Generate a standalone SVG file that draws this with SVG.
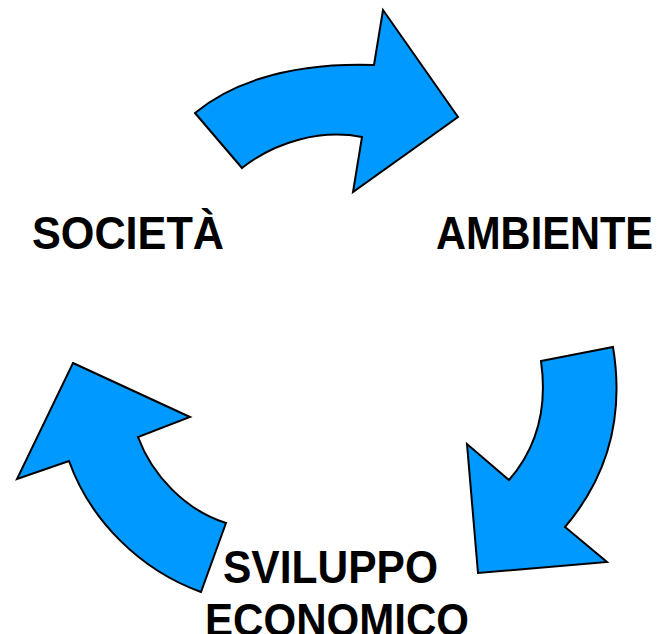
<svg xmlns="http://www.w3.org/2000/svg" width="657" height="634" viewBox="0 0 657 634">
<style>
.arrow{fill:#0099FF;stroke:#000;stroke-width:2;stroke-linejoin:miter}
.lbl{font-family:"Liberation Sans",Arial,sans-serif;font-weight:bold;font-size:46px;fill:#000}
</style>
<rect width="657" height="634" fill="#fff"/>
<g id="connectors">
<path id="arrow-top" class="arrow" d="M195,113 C225,88 280,62 374,65 L383,10 L458,117 L353,192 L362,137 C320,129 275,142 242,168 Z"/>
<path id="arrow-right" class="arrow" d="M541,361 L613,347 C625,420 605,480 565,527 L607,562 L478,573 L467,444 L509,480 C535,450 548,410 541,361 Z"/>
<path id="arrow-left" class="arrow" d="M73,363 L190,417 L138,437 C152,475 185,510 226,523 L201,592 C140,570 90,520 69,461 L17,479 Z"/>
</g>
<g id="societa"><text class="lbl" x="32" y="249" textLength="192" lengthAdjust="spacingAndGlyphs">SOCIETÀ</text></g>
<g id="ambiente"><text class="lbl" x="436" y="249" textLength="217" lengthAdjust="spacingAndGlyphs">AMBIENTE</text></g>
<g id="sviluppo"><text class="lbl" x="223" y="583" textLength="215" lengthAdjust="spacingAndGlyphs">SVILUPPO</text><text class="lbl" x="205" y="636" textLength="264" lengthAdjust="spacingAndGlyphs">ECONOMICO</text></g>
</svg>
